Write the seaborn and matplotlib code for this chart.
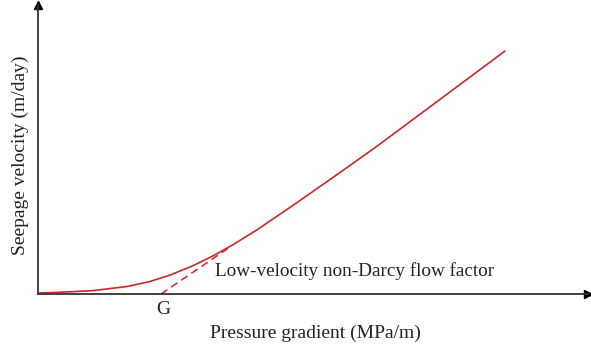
import matplotlib
matplotlib.use("Agg")
import matplotlib.pyplot as plt
import seaborn as sns
import pandas as pd

# curve (arbitrary units, no ticks shown)
gradient = [0.00, 0.22, 0.55, 0.89, 1.12, 1.32, 1.55, 1.75, 1.95, 2.19, 2.59, 3.02, 3.39, 3.74, 4.20, 4.67]
velocity = [0.010, 0.017, 0.034, 0.075, 0.125, 0.189, 0.283, 0.381, 0.493, 0.642, 0.914, 1.215, 1.478, 1.738, 2.08, 2.43]

# dashed extrapolation down to the threshold gradient G
dash_x = [1.23, 1.92]
dash_y = [0.00, 0.47]
g_value = 1.25

line_color = "#c8282a"
axis_color = "#333333"

sns.set_theme(style="white")
plt.rcParams["font.family"] = ["Liberation Serif", "DejaVu Serif"]

fig = plt.figure(figsize=(5.91, 3.51), dpi=100)
ax = fig.add_axes([38 / 591, 57 / 351, 550 / 591, 289 / 351])

df = pd.DataFrame({"gradient": gradient, "velocity": velocity})
sns.lineplot(data=df, x="gradient", y="velocity", ax=ax, color=line_color, lw=1.2, sort=False)
sns.lineplot(x=dash_x, y=dash_y, ax=ax, color=line_color, lw=1.1, linestyle=(0, (5, 3)))

ax.set_xlim(0, 5.50)
ax.set_ylim(0, 2.89)
ax.set_xticks([])
ax.set_yticks([])
ax.set_xlabel("")
ax.set_ylabel("")

for side in ["top", "right"]:
    ax.spines[side].set_visible(False)
for side in ["left", "bottom"]:
    ax.spines[side].set_color(axis_color)
    ax.spines[side].set_linewidth(1.3)

# arrow heads
ax.plot(1, 0, ">", color="black", ms=6, transform=ax.transAxes, clip_on=False)
ax.plot(0, 1, "^", color="black", ms=6, transform=ax.transAxes, clip_on=False)

ax.text(g_value, -0.15, "G", ha="center", va="center", fontsize=14, color="#222222")
ax.text(1.77, 0.23, "Low-velocity non-Darcy flow factor", ha="left", va="center",
        fontsize=13.8, color="#222222")

fig.text(315 / 591, 1 - 333 / 351, "Pressure gradient (MPa/m)", ha="center", va="center",
         fontsize=14, color="#222222")
fig.text(20 / 591, 1 - 155 / 351, "Seepage velocity (m/day)", ha="center", va="center",
         rotation=90, fontsize=14, color="#222222")

fig.savefig("out.png", dpi=100)
